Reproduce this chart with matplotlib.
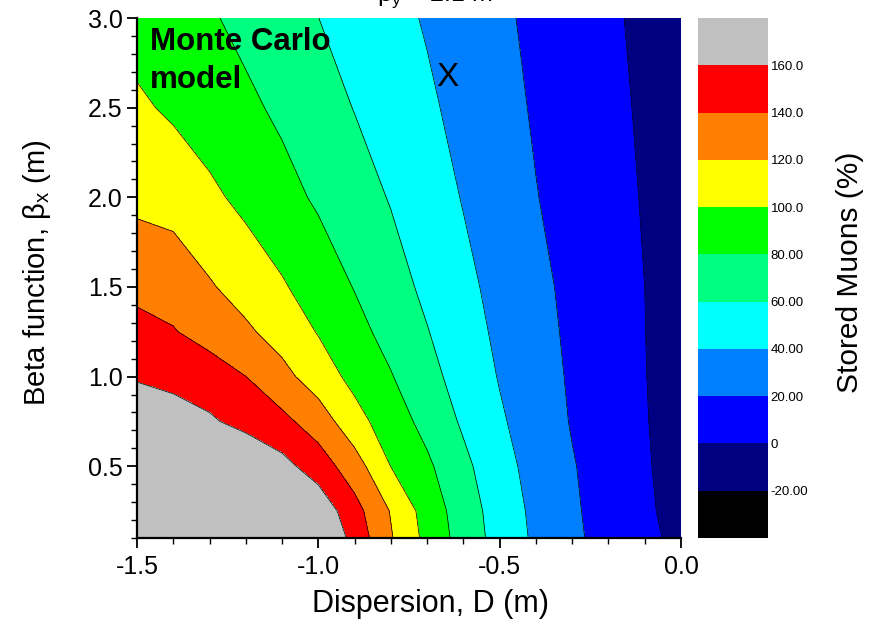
import numpy as np
import matplotlib
matplotlib.use("Agg")
import matplotlib.pyplot as plt
from matplotlib.ticker import MultipleLocator, FormatStrFormatter

plt.rcParams['font.family'] = ['Liberation Sans', 'DejaVu Sans']
plt.rcParams['mathtext.fontset'] = 'custom'
plt.rcParams['mathtext.rm'] = 'Liberation Sans'
plt.rcParams['mathtext.it'] = 'Liberation Sans:italic'
plt.rcParams['axes.unicode_minus'] = False

# ---- data ----
dispersion = [-1.5, -1.4, -1.3, -1.2, -1.1, -1.0, -0.9, -0.8,
              -0.7, -0.6, -0.5, -0.4, -0.3, -0.2, -0.1, 0.0]
beta_x = [0.1, 0.25, 0.5, 0.75, 1.0, 1.25, 1.5, 2.0, 2.5, 3.0]

muons_b010 = [236, 230, 222, 212, 200, 184, 152.8, 121.6, 94.3, 71.7, 52.5, 36.6, 23.5, 13.4, 4.3, -4.7]
muons_b025 = [222, 216, 208, 199, 188, 173.9, 147.2, 118.8, 91.6, 70.0, 51.2, 35.4, 22.6, 12.5, 3.0, -6.4]
muons_b050 = [203, 196, 188, 178, 166.3, 150.2, 129.1, 99.7, 83.4, 64.7, 47.0, 33.0, 21.2, 11.4, 1.9, -7.6]
muons_b075 = [178, 171.3, 162.5, 153.8, 145.0, 130.5, 107.2, 89.6, 74.0, 57.2, 42.5, 30.2, 18.8, 9.9, 1.0, -7.9]
muons_b100 = [157.5, 153, 150, 140.1, 126.0, 110.0, 94.4, 81.1, 66.2, 52.1, 38.9, 28.0, 17.7, 9.1, 0.5, -8.1]
muons_b125 = [145, 141.2, 132.2, 123.3, 111.8, 98.9, 86.1, 73.4, 60.8, 48.1, 36.3, 26.1, 16.7, 8.5, 0.2, -8.0]
muons_b150 = [136, 131.8, 121.9, 111.9, 102.0, 90.8, 79.2, 67.6, 56.0, 44.7, 34.3, 24.5, 15.7, 7.9, 0.0, -7.9]
muons_b200 = [115, 112.7, 103.9, 95.1, 86.3, 77.3, 68.1, 58.8, 48.9, 39.0, 29.8, 20.6, 13.3, 6.1, -1.2, -8.4]
muons_b250 = [103.2, 96.9, 90.3, 83.8, 76.4, 67.9, 59.4, 51.2, 43.0, 34.6, 26.1, 18.1, 11.3, 4.4, -2.4, -9.2]
muons_b300 = [92, 89.5, 82.1, 74.8, 67.4, 60.1, 52.8, 45.6, 38.3, 30.7, 23.2, 16.1, 9.5, 2.9, -3.8, -10.4]

levels = [-40, -20, 0, 20, 40, 60, 80, 100, 120, 140, 160, 400]
level_colors = ['#000000', '#000080', '#0000FF', '#0080FF', '#00FFFF', '#00FF80',
                '#00FF00', '#FFFF00', '#FF8000', '#FF0000', '#C0C0C0']
cbar_ticks = [-20, 0, 20, 40, 60, 80, 100, 120, 140, 160]
cbar_labels = ['-20.00', '0', '20.00', '40.00', '60.00', '80.00', '100.0', '120.0', '140.0', '160.0']

Z = np.array([muons_b010, muons_b025, muons_b050, muons_b075, muons_b100,
              muons_b125, muons_b150, muons_b200, muons_b250, muons_b300])
X, Y = np.meshgrid(dispersion, beta_x)

fig = plt.figure(figsize=(8.77, 6.28), dpi=100)
ax = fig.add_axes([137/877, 90/628, 544/877, 520/628])

cf = ax.contourf(X, Y, Z, levels=levels, colors=level_colors)
ax.contour(X, Y, Z, levels=levels[2:-1], colors='k', linewidths=0.5)

ax.set_xlim(-1.5, 0.0)
ax.set_ylim(0.1, 3.0)
ax.spines['top'].set_visible(False)
ax.spines['right'].set_visible(False)
for s in ('left', 'bottom'):
    ax.spines[s].set_linewidth(1.6)
ax.xaxis.set_major_locator(MultipleLocator(0.5))
ax.xaxis.set_minor_locator(MultipleLocator(0.1))
ax.yaxis.set_major_locator(MultipleLocator(0.5))
ax.yaxis.set_minor_locator(MultipleLocator(0.1))
ax.xaxis.set_major_formatter(FormatStrFormatter('%.1f'))
ax.yaxis.set_major_formatter(FormatStrFormatter('%.1f'))
ax.tick_params(which='major', direction='out', length=7.5, width=1.3, labelsize=18)
ax.tick_params(axis='x', which='major', pad=5)
ax.tick_params(axis='y', which='major', pad=3)
ax.tick_params(which='minor', direction='out', length=4, width=1.0)

ax.set_xlabel('Dispersion, D (m)', fontsize=22)
ax.xaxis.set_label_coords(0.54, -0.098)
ax.set_ylabel('Beta function, β$_\\mathregular{x}$ (m)', fontsize=21)
ax.yaxis.set_label_coords(-0.154, 0.51)

ax.text(0.024, 0.938, 'Monte Carlo', transform=ax.transAxes, fontsize=22.5,
        fontweight='bold', ha='left', va='baseline')
ax.text(0.024, 0.865, 'model', transform=ax.transAxes, fontsize=22.5,
        fontweight='bold', ha='left', va='baseline')
ax.text(-0.645, 2.621, 'X', fontsize=24, ha='center', va='baseline')

fig.text(435/877, 0.998, 'β$_\\mathregular{y}$ = 2.1 m', fontsize=18, ha='center', va='baseline')

cax = fig.add_axes([698/877, 90/628, 70/877, 520/628])
cb = fig.colorbar(cf, cax=cax, ticks=cbar_ticks)
cb.set_ticklabels(cbar_labels)
cb.outline.set_visible(False)
cb.ax.tick_params(length=0, labelsize=9.5, pad=2)
fig.text(850/877, (628-272)/628, 'Stored Muons (%)', rotation=90, fontsize=21.5,
         ha='center', va='center')

fig.savefig('out.png', dpi=100)
